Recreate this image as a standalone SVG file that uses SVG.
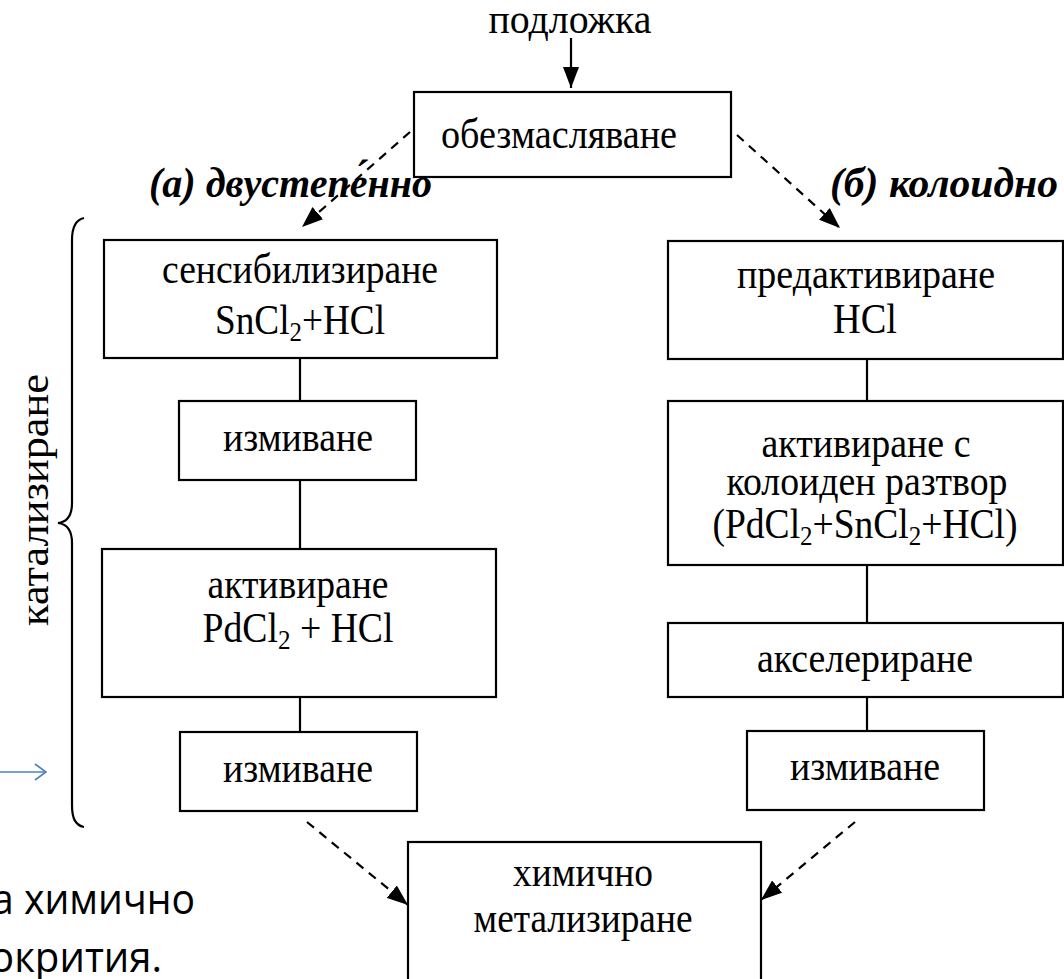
<svg xmlns="http://www.w3.org/2000/svg" width="1064" height="979" viewBox="0 0 1064 979">
<style>
.box{fill:#fff;stroke:#000;stroke-width:2.2}
.t{font-family:"Liberation Serif","Times New Roman",serif;font-size:42px;fill:#000;text-anchor:middle}
.bi{font-family:"Liberation Serif","Times New Roman",serif;font-size:42px;font-weight:bold;font-style:italic;fill:#000}
.sub{font-size:28px}
.solid{stroke:#000;stroke-width:2.2;fill:none}
.dash{stroke:#000;stroke-width:2.2;fill:none;stroke-dasharray:9,7}
.sans{font-family:"Open Sans","Noto Sans",sans-serif;font-size:42px;fill:#000}
</style>
<defs>
<marker id="ah" markerUnits="userSpaceOnUse" markerWidth="22" markerHeight="16" refX="21" refY="8" orient="auto">
<path d="M0,0 L21,8 L0,16 z" fill="#000"/>
</marker>
<marker id="blue" markerUnits="userSpaceOnUse" markerWidth="14" markerHeight="18" refX="12" refY="9" orient="auto">
<path d="M1,1 L12,9 L1,17" fill="none" stroke="#4f81bd" stroke-width="1.6"/>
</marker>
</defs>

<g id="connectors">
<line class="solid" x1="571" y1="38" x2="571" y2="88" marker-end="url(#ah)"/>
<line class="dash" x1="410" y1="132" x2="302" y2="227" marker-end="url(#ah)"/>
<line class="dash" x1="737" y1="135" x2="840" y2="228" marker-end="url(#ah)"/>
<line class="solid" x1="300" y1="358" x2="300" y2="401"/>
<line class="solid" x1="300" y1="480" x2="300" y2="549"/>
<line class="solid" x1="300" y1="697" x2="300" y2="732"/>
<line class="solid" x1="867" y1="359" x2="867" y2="401"/>
<line class="solid" x1="867" y1="565" x2="867" y2="623"/>
<line class="solid" x1="867" y1="697" x2="867" y2="731"/>
<line class="dash" x1="307" y1="822" x2="408" y2="905" marker-end="url(#ah)"/>
<line class="dash" x1="855" y1="822" x2="761" y2="900" marker-end="url(#ah)"/>
<line x1="-2" y1="772" x2="46" y2="772" stroke="#4f81bd" stroke-width="1.6" marker-end="url(#blue)"/>
</g>

<g id="substrate">
<text class="t" x="570" y="33" textLength="163" lengthAdjust="spacingAndGlyphs">подложка</text>
</g>

<g id="degreasing">
<rect class="box" x="414" y="92" width="317" height="85"/>
<text class="t" x="559" y="148" textLength="236" lengthAdjust="spacingAndGlyphs">обезмасляване</text>
</g>

<g id="label-a">
<text class="bi" x="149" y="197" textLength="283" lengthAdjust="spacingAndGlyphs">(а) двустепе́нно</text>
</g>
<g id="label-b">
<text class="bi" x="830" y="197" textLength="228" lengthAdjust="spacingAndGlyphs">(б) колоидно</text>
</g>

<g id="sensitization">
<rect class="box" x="104" y="240" width="393" height="118"/>
<text class="t" x="300" y="283" textLength="276" lengthAdjust="spacingAndGlyphs">сенсибилизиране</text>
<text class="t" x="300" y="334" textLength="170" lengthAdjust="spacingAndGlyphs">SnCl<tspan class="sub" dy="7">2</tspan><tspan dy="-7">+HCl</tspan></text>
</g>

<g id="rinse-a1">
<rect class="box" x="179" y="401" width="237" height="79"/>
<text class="t" x="298" y="451" textLength="150" lengthAdjust="spacingAndGlyphs">измиване</text>
</g>

<g id="activation-a">
<rect class="box" x="102" y="549" width="394" height="148"/>
<text class="t" x="298" y="598" textLength="181" lengthAdjust="spacingAndGlyphs">активиране</text>
<text class="t" x="298" y="642" textLength="191" lengthAdjust="spacingAndGlyphs">PdCl<tspan class="sub" dy="7">2</tspan><tspan dy="-7"> + HCl</tspan></text>
</g>

<g id="rinse-a2">
<rect class="box" x="180" y="732" width="237" height="79"/>
<text class="t" x="298" y="782" textLength="150" lengthAdjust="spacingAndGlyphs">измиване</text>
</g>

<g id="preactivation">
<rect class="box" x="668" y="241" width="395" height="118"/>
<text class="t" x="866" y="288" textLength="258" lengthAdjust="spacingAndGlyphs">предактивиране</text>
<text class="t" x="865" y="333" textLength="64" lengthAdjust="spacingAndGlyphs">HCl</text>
</g>

<g id="colloid-activation">
<rect class="box" x="668" y="401" width="395" height="164"/>
<text class="t" x="866" y="457" textLength="209" lengthAdjust="spacingAndGlyphs">активиране с</text>
<text class="t" x="867" y="495" textLength="281" lengthAdjust="spacingAndGlyphs">колоиден разтвор</text>
<text class="t" x="865" y="538" textLength="305" lengthAdjust="spacingAndGlyphs">(PdCl<tspan class="sub" dy="7">2</tspan><tspan dy="-7">+SnCl</tspan><tspan class="sub" dy="7">2</tspan><tspan dy="-7">+HCl)</tspan></text>
</g>

<g id="acceleration">
<rect class="box" x="668" y="623" width="395" height="74"/>
<text class="t" x="865" y="672" textLength="216" lengthAdjust="spacingAndGlyphs">акселериране</text>
</g>

<g id="rinse-b">
<rect class="box" x="747" y="731" width="237" height="79"/>
<text class="t" x="865" y="780" textLength="150" lengthAdjust="spacingAndGlyphs">измиване</text>
</g>

<g id="electroless">
<rect class="box" x="408" y="842" width="353" height="160"/>
<text class="t" x="583" y="886" textLength="140" lengthAdjust="spacingAndGlyphs">химично</text>
<text class="t" x="583" y="932" textLength="219" lengthAdjust="spacingAndGlyphs">метализиране</text>
</g>

<g id="catalysis">
<path class="solid" d="M84,218 C75,220 72,228 72,240 L72,503 C72,515 67,522 58,523 C67,524 72,531 72,543 L72,805 C72,818 75,825 84,827" stroke-width="1.8"/>
<text class="t" transform="translate(48,500) rotate(-90)" x="0" y="0" textLength="252" lengthAdjust="spacingAndGlyphs">катализиране</text>
</g>

<g id="background-text">
<text class="sans" x="-8" y="914" textLength="203" lengthAdjust="spacingAndGlyphs">а химично</text>
<text class="sans" x="-10" y="972" textLength="172" lengthAdjust="spacingAndGlyphs">окрития.</text>
</g>
</svg>
